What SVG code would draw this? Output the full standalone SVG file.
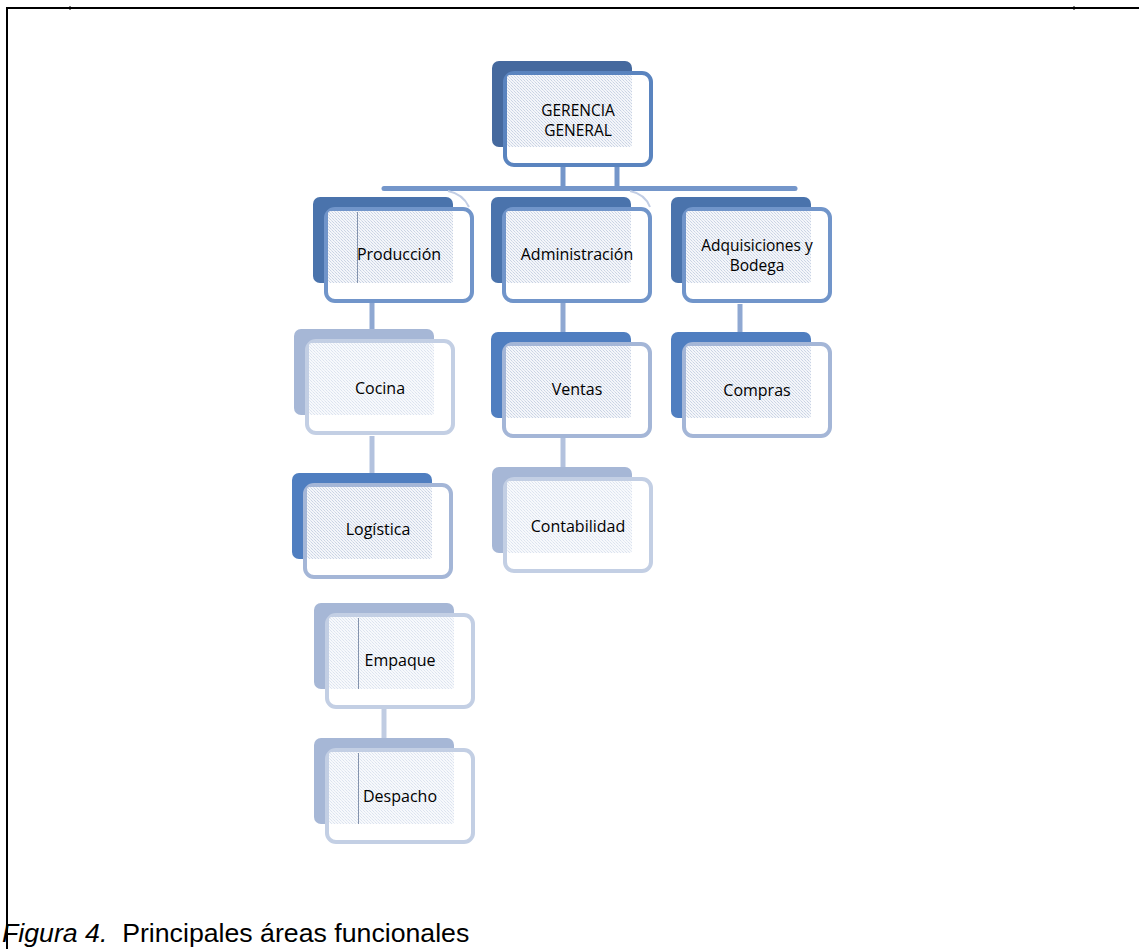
<svg xmlns="http://www.w3.org/2000/svg" width="1139" height="949" viewBox="0 0 1139 949">
<defs>
<pattern id="hd" width="3" height="3" patternUnits="userSpaceOnUse"><rect width="3" height="3" fill="#F4F6FA"/><rect width="1" height="1" fill="#C9D3E4"/><rect x="1" y="1" width="1" height="1" fill="#D8DFEB"/><rect x="2" y="2" width="1" height="1" fill="#C9D3E4"/></pattern>
<pattern id="hl" width="3" height="3" patternUnits="userSpaceOnUse"><rect width="3" height="3" fill="#F7F9FC"/><rect width="1" height="1" fill="#DCE3EF"/><rect x="1" y="1" width="1" height="1" fill="#E6EBF3"/><rect x="2" y="2" width="1" height="1" fill="#DCE3EF"/></pattern>
<style>
.back{stroke:none}
.front{fill:#FFFFFF;stroke-width:4}
.hatch{stroke:none}
.top .back{fill:#45699E}.top .front{stroke:#5A84BF}
.l1 .back{fill:#4A73AC}.l1 .front{stroke:#7195CA}
.mid .back{fill:#4F7EC0}.mid .front{stroke:#A4B6D7}
.lt .back{fill:#A6B7D6}.lt .front{stroke:#C3CFE4}
.top .hatch,.l1 .hatch,.mid .hatch{fill:url(#hd)}
.lt .hatch{fill:url(#hl)}
.lbl{font-family:"Open Sans","Noto Sans",sans-serif;font-size:16px;fill:#000000;text-anchor:middle}
.lbl2{font-family:"Open Sans","Noto Sans",sans-serif;font-size:15.5px;fill:#000000;text-anchor:middle}
.vl{stroke:#8493AD;stroke-width:1}
.conn{fill:none;stroke-width:5;stroke-linecap:butt}
.frame{stroke:#000000;stroke-width:2;fill:none}
.cap{font-family:"Liberation Sans",Arial,sans-serif;font-size:26.7px;fill:#000000}
</style>
</defs>
<rect width="1139" height="949" fill="#FFFFFF"/>
<g id="frame">
<line class="frame" x1="7" y1="8" x2="1139" y2="8"/>
<line class="frame" x1="7" y1="7" x2="7" y2="949"/>
<line x1="70" y1="6" x2="70" y2="10" stroke="#000" stroke-width="1"/>
<line x1="1074" y1="6" x2="1074" y2="10" stroke="#000" stroke-width="1"/>
</g>
<g id="connectors">
<line class="conn" stroke="#7496CA" x1="563" y1="165" x2="563" y2="187"/>
<line class="conn" stroke="#7496CA" x1="617" y1="165" x2="617" y2="187"/>
<line x1="384" y1="188.5" x2="795" y2="188.5" stroke="#7496CA" stroke-width="5" stroke-linecap="round"/>
<path d="M448,191 Q463,194 469,207" fill="none" stroke="#C2CEE5" stroke-width="2"/>
<path d="M630,191 Q645,194 650,207" fill="none" stroke="#C2CEE5" stroke-width="2"/>
<line class="conn" stroke="#8FA8D2" x1="372" y1="303" x2="372" y2="330"/>
<line class="conn" stroke="#B3C2DE" x1="372" y1="436" x2="372" y2="474"/>
<line class="conn" stroke="#8FA8D2" x1="563" y1="303" x2="563" y2="333"/>
<line class="conn" stroke="#B3C2DE" x1="563" y1="438" x2="563" y2="468"/>
<line class="conn" stroke="#8FA8D2" x1="740" y1="304" x2="740" y2="333"/>
<line class="conn" stroke="#C0CCE2" x1="384" y1="708" x2="384" y2="739"/>
</g>
<g id="gerencia" class="top" transform="translate(503,71)">
<rect class="back" x="-11" y="-10" width="140" height="86" rx="7"/>
<rect class="front" x="2" y="2" width="146" height="92" rx="9"/>
<rect class="hatch" x="4" y="4" width="125" height="72" rx="3"/>
<text class="lbl2" x="75" y="45">GERENCIA</text>
<text class="lbl2" x="75" y="65">GENERAL</text>
</g>
<g id="produccion" class="l1" transform="translate(324,207)">
<rect class="back" x="-11" y="-10" width="140" height="86" rx="7"/>
<rect class="front" x="2" y="2" width="146" height="92" rx="9"/>
<rect class="hatch" x="4" y="4" width="125" height="72" rx="3"/>
<line class="vl" x1="33.5" y1="5" x2="33.5" y2="76"/>
<text class="lbl" x="75" y="53">Producción</text>
</g>
<g id="administracion" class="l1" transform="translate(502,207)">
<rect class="back" x="-11" y="-10" width="140" height="86" rx="7"/>
<rect class="front" x="2" y="2" width="146" height="92" rx="9"/>
<rect class="hatch" x="4" y="4" width="125" height="72" rx="3"/>
<text class="lbl" x="75" y="53">Administración</text>
</g>
<g id="adquisiciones" class="l1" transform="translate(682,207)">
<rect class="back" x="-11" y="-10" width="140" height="86" rx="7"/>
<rect class="front" x="2" y="2" width="146" height="92" rx="9"/>
<rect class="hatch" x="4" y="4" width="125" height="72" rx="3"/>
<text class="lbl2" x="75" y="44">Adquisiciones y</text>
<text class="lbl2" x="75" y="64">Bodega</text>
</g>
<g id="cocina" class="lt" transform="translate(305,339)">
<rect class="back" x="-11" y="-10" width="140" height="86" rx="7"/>
<rect class="front" x="2" y="2" width="146" height="92" rx="9"/>
<rect class="hatch" x="4" y="4" width="125" height="72" rx="3"/>
<text class="lbl" x="75" y="55">Cocina</text>
</g>
<g id="logistica" class="mid" transform="translate(303,483)">
<rect class="back" x="-11" y="-10" width="140" height="86" rx="7"/>
<rect class="front" x="2" y="2" width="146" height="92" rx="9"/>
<rect class="hatch" x="4" y="4" width="125" height="72" rx="3"/>
<text class="lbl" x="75" y="52">Logística</text>
</g>
<g id="empaque" class="lt" transform="translate(325,613)">
<rect class="back" x="-11" y="-10" width="140" height="86" rx="7"/>
<rect class="front" x="2" y="2" width="146" height="92" rx="9"/>
<rect class="hatch" x="4" y="4" width="125" height="72" rx="3"/>
<line class="vl" x1="33.5" y1="5" x2="33.5" y2="76"/>
<text class="lbl" x="75" y="53">Empaque</text>
</g>
<g id="despacho" class="lt" transform="translate(325,748)">
<rect class="back" x="-11" y="-10" width="140" height="86" rx="7"/>
<rect class="front" x="2" y="2" width="146" height="92" rx="9"/>
<rect class="hatch" x="4" y="4" width="125" height="72" rx="3"/>
<line class="vl" x1="33.5" y1="5" x2="33.5" y2="76"/>
<text class="lbl" x="75" y="54">Despacho</text>
</g>
<g id="ventas" class="mid" transform="translate(502,342)">
<rect class="back" x="-11" y="-10" width="140" height="86" rx="7"/>
<rect class="front" x="2" y="2" width="146" height="92" rx="9"/>
<rect class="hatch" x="4" y="4" width="125" height="72" rx="3"/>
<text class="lbl" x="75" y="53">Ventas</text>
</g>
<g id="contabilidad" class="lt" transform="translate(503,477)">
<rect class="back" x="-11" y="-10" width="140" height="86" rx="7"/>
<rect class="front" x="2" y="2" width="146" height="92" rx="9"/>
<rect class="hatch" x="4" y="4" width="125" height="72" rx="3"/>
<text class="lbl" x="75" y="55">Contabilidad</text>
</g>
<g id="compras" class="mid" transform="translate(682,342)">
<rect class="back" x="-11" y="-10" width="140" height="86" rx="7"/>
<rect class="front" x="2" y="2" width="146" height="92" rx="9"/>
<rect class="hatch" x="4" y="4" width="125" height="72" rx="3"/>
<text class="lbl" x="75" y="54">Compras</text>
</g>
<g id="caption">
<text class="cap" x="2" y="942"><tspan font-style="italic">Figura 4.</tspan><tspan xml:space="preserve">  Principales áreas funcionales</tspan></text>
</g>
</svg>
